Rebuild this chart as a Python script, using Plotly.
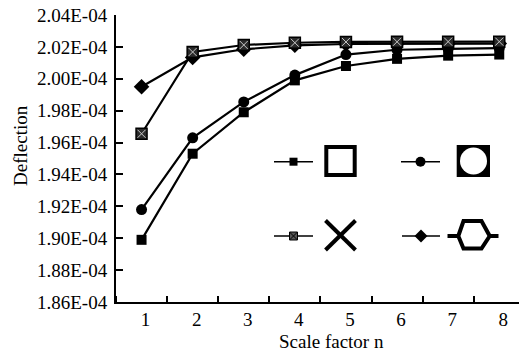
import plotly.graph_objects as go

# ---------------- data (Deflection, units of 1E-04) ----------------
scale_n = [1, 2, 3, 4, 5, 6, 7, 8]
SCALE = 1e-4
defl_square  = [1.899, 1.953, 1.979, 1.999, 2.008, 2.0125, 2.0145, 2.0152]
defl_circle  = [1.918, 1.963, 1.9855, 2.0023, 2.0152, 2.0182, 2.0188, 2.0192]
defl_cross   = [1.9655, 2.0168, 2.0212, 2.0226, 2.0231, 2.0232, 2.0233, 2.0233]
defl_diamond = [1.995, 2.0134, 2.0185, 2.021, 2.0218, 2.0219, 2.022, 2.0221]
y_ticks = [1.86, 1.88, 1.90, 1.92, 1.94, 1.96, 1.98, 2.00, 2.02, 2.04]

FONT = "Liberation Serif, Times New Roman, serif"
W, H = 519, 352
L, T, B = 116, 15, 302          # plot area pixel bounds
CAT_W = 51.1                     # pixel width of one category

def sc(v):
    return [x * SCALE for x in v]

def px(x):   # pixel -> paper x
    return (x - L) / (W - L)

def py(y):   # pixel -> paper y
    return (B - y) / (B - T)

fig = go.Figure()

line = dict(color="black", width=2.2)
fig.add_trace(go.Scatter(x=scale_n, y=sc(defl_square), mode="lines+markers",
                         line=line, marker=dict(symbol="square", size=10, color="black")))
fig.add_trace(go.Scatter(x=scale_n, y=sc(defl_circle), mode="lines+markers",
                         line=line, marker=dict(symbol="circle", size=11, color="black")))
fig.add_trace(go.Scatter(x=scale_n, y=sc(defl_diamond), mode="lines+markers",
                         line=line, marker=dict(symbol="diamond", size=12, color="black")))
fig.add_trace(go.Scatter(x=scale_n, y=sc(defl_cross), mode="lines+markers",
                         line=line, marker=dict(symbol="square", size=11, color="#2a2a2a",
                                                line=dict(color="black", width=1.5))))
fig.add_trace(go.Scatter(x=scale_n, y=sc(defl_cross), mode="markers",
                         marker=dict(symbol="x-thin-open", size=8, color="#c8c8c8",
                                     line=dict(color="#c8c8c8", width=1))))

# ---------------- legend drawn in pixel coordinates (overlay axis) ----------------
def leg_sample(x0, x1, y, symbol, size, color="black", mline=None):
    fig.add_trace(go.Scatter(x=[x0, x1], y=[y, y], xaxis="x2", yaxis="y2",
                             mode="lines", line=dict(color="black", width=1.5),
                             hoverinfo="skip"))
    fig.add_trace(go.Scatter(x=[(x0 + x1) / 2], y=[y], xaxis="x2", yaxis="y2", mode="markers",
                             marker=dict(symbol=symbol, size=size, color=color,
                                         line=mline or dict(width=0)),
                             hoverinfo="skip"))

leg_sample(274, 313, 161.7, "square", 8)
leg_sample(401, 440, 161.7, "circle", 10)
leg_sample(274, 313, 236, "square-x", 8, color="#555", mline=dict(color="black", width=1))
leg_sample(402, 440, 236, "diamond", 10)

shapes = []
shapes.append(dict(type="rect", xref="x2", yref="y2", x0=326.3, x1=354.7, y0=147, y1=175,
                   line=dict(color="black", width=4), fillcolor="white"))
shapes.append(dict(type="rect", xref="x2", yref="y2", x0=456.7, x1=490, y0=145, y1=177,
                   line=dict(width=0), fillcolor="black"))
shapes.append(dict(type="circle", xref="x2", yref="y2", x0=460, x1=487, y0=147.5, y1=174.5,
                   line=dict(width=0), fillcolor="white"))
shapes.append(dict(type="line", xref="x2", yref="y2", x0=325.5, y0=220.5, x1=355.5, y1=250,
                   line=dict(color="black", width=4)))
shapes.append(dict(type="line", xref="x2", yref="y2", x0=325.5, y0=250, x1=355.5, y1=220.5,
                   line=dict(color="black", width=4)))
shapes.append(dict(type="path", xref="x2", yref="y2",
                   path="M 458.3 236 L 463.5 221 L 481.5 221 L 489.7 236 L 481.5 248.5 L 463.5 248.5 Z",
                   line=dict(color="black", width=4), fillcolor="white"))
shapes.append(dict(type="line", xref="x2", yref="y2", x0=447.5, y0=236, x1=458.3, y1=236,
                   line=dict(color="black", width=4)))
shapes.append(dict(type="line", xref="x2", yref="y2", x0=489.7, y0=236, x1=498.5, y1=236,
                   line=dict(color="black", width=4)))

x_hi = 0.5 + (W - L) / CAT_W

fig.update_layout(
    width=W, height=H,
    margin=dict(l=L, r=0, t=T, b=H - B),
    paper_bgcolor="white", plot_bgcolor="white",
    showlegend=False,
    font=dict(family=FONT, size=19, color="black"),
    shapes=shapes,
    xaxis=dict(range=[0.5, x_hi], tickvals=scale_n, ticktext=[str(v) for v in scale_n],
               ticks="", showgrid=False, zeroline=False, showline=True,
               linecolor="black", linewidth=2, ticklabelshift=4, ticklabelstandoff=-1,
               minor=dict(tick0=0.5, dtick=1, ticks="inside", ticklen=6, tickwidth=1.5,
                          tickcolor="black", showgrid=False)),
    yaxis=dict(range=[y_ticks[0] * SCALE, y_ticks[-1] * SCALE],
               tickvals=sc(y_ticks), ticktext=[f"{v * SCALE:.2E}" for v in y_ticks],
               ticks="inside", ticklen=7, tickwidth=1.5, tickcolor="black",
               showgrid=False, zeroline=False, showline=True, linecolor="black", linewidth=2,
               ticklabelstandoff=3),
    xaxis2=dict(range=[L, W], overlaying="x", visible=False, fixedrange=True),
    yaxis2=dict(range=[B, T], overlaying="y", visible=False, fixedrange=True),
    annotations=[
        dict(text="Scale factor n", xref="paper", yref="paper", x=px(331.7), y=py(341.5),
             showarrow=False, font=dict(family=FONT, size=19),
             yanchor="middle", xanchor="center"),
        dict(text="Deflection", xref="paper", yref="paper", x=px(20), y=py(146),
             showarrow=False, textangle=-90, font=dict(family=FONT, size=19),
             xanchor="center", yanchor="middle"),
    ],
)

fig.write_html("out.html")
